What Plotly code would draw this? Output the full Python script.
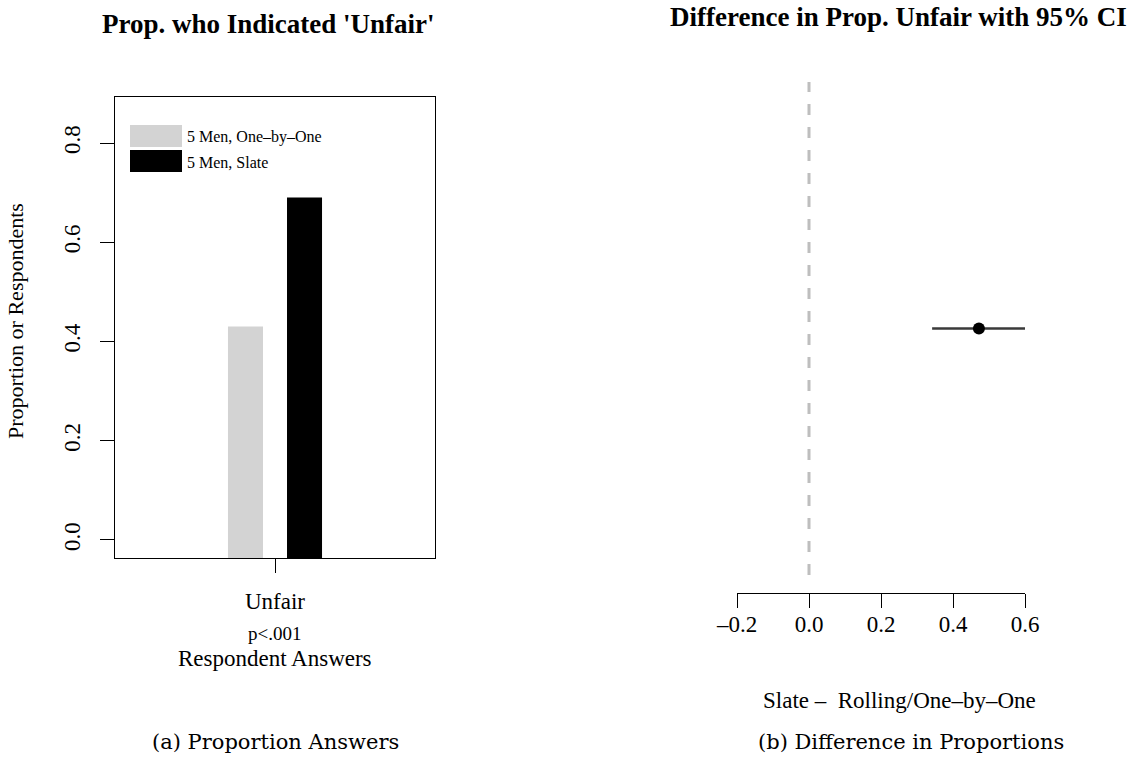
import plotly.graph_objects as go

W, H = 1135, 759

# Panel (a): proportion answering "Unfair"
categories = ["Unfair"]
series_names = ["5 Men, One\u2013by\u2013One", "5 Men, Slate"]
series_colors = ["#D3D3D3", "#000000"]
prop_one_by_one = [0.43]
prop_slate = [0.69]
p_value_label = "p<.001"
y_ticks = [0.0, 0.2, 0.4, 0.6, 0.8]

# Panel (b): difference in proportions with 95% CI
diff_estimate = [0.472]
diff_lower = [0.342]
diff_upper = [0.605]
x_ticks_b = [-0.2, 0.0, 0.2, 0.4, 0.6]

Y_MIN, Y_MAX = -0.0363, 0.8927


def px(x):
    return x / W


def py(y):
    return 1 - y / H


SERIF = "Liberation Serif"
CAPTION = "DejaVu Serif"

fig = go.Figure()

for name, vals, col in zip(series_names, [prop_one_by_one, prop_slate], series_colors):
    fig.add_trace(go.Bar(
        x=categories, y=[v - Y_MIN for v in vals], base=Y_MIN,
        name=name, marker=dict(color=col, line=dict(width=0)),
        xaxis="x", yaxis="y", showlegend=False,
    ))

# zero reference line
fig.add_trace(go.Scatter(
    x=[0, 0], y=[0, 2], mode="lines",
    line=dict(color="#BEBEBE", width=3, dash="11px,12px"),
    xaxis="x2", yaxis="y2", showlegend=False, hoverinfo="skip",
))
# confidence interval
fig.add_trace(go.Scatter(
    x=[diff_lower[0], diff_upper[0]], y=[1, 1], mode="lines",
    line=dict(color="#3A3A3A", width=2.4),
    xaxis="x2", yaxis="y2", showlegend=False,
))
fig.add_trace(go.Scatter(
    x=diff_estimate, y=[1], mode="markers",
    marker=dict(color="black", size=12),
    xaxis="x2", yaxis="y2", showlegend=False,
))

fig.update_layout(
    width=W, height=H,
    margin=dict(l=0, r=0, t=0, b=0, autoexpand=False),
    paper_bgcolor="white", plot_bgcolor="white",
    font=dict(family=SERIF, color="black", size=23),
    barmode="group", bargap=0.631, bargroupgap=0.407,
    xaxis=dict(
        domain=[px(115), px(435)], range=[-0.5, 0.5], type="category",
        showline=True, linecolor="black", linewidth=1, mirror=True,
        ticks="outside", ticklen=14, tickcolor="black",
        tickfont=dict(family=SERIF, size=23), ticklabelstandoff=8,
        showgrid=False, zeroline=False, automargin=False,
        anchor="y",
    ),
    yaxis=dict(
        domain=[py(558), py(97)], range=[Y_MIN, Y_MAX],
        tickvals=y_ticks, ticktext=[f"{v:.1f}" for v in y_ticks],
        tickangle=-90, showline=True, linecolor="black", linewidth=1, mirror=True,
        ticks="outside", ticklen=14, tickcolor="black",
        tickfont=dict(family=SERIF, size=23), ticklabelstandoff=11,
        showgrid=False, zeroline=False,
        automargin=False, anchor="x",
    ),
    xaxis2=dict(
        domain=[px(737), px(1025)], range=[-0.2, 0.6],
        tickvals=x_ticks_b, ticktext=["\u20130.2", "0.0", "0.2", "0.4", "0.6"],
        showline=True, linecolor="black", linewidth=1,
        ticks="outside", ticklen=14, tickcolor="black",
        tickfont=dict(family=SERIF, size=23), ticklabelstandoff=-4,
        showgrid=False, zeroline=False,
        automargin=False, anchor="free", position=py(593),
    ),
    yaxis2=dict(
        domain=[py(575), py(82)], range=[0, 2], visible=False,
        automargin=False, anchor="x2",
    ),
)

ann = [
    dict(text="<b>Prop. who Indicated 'Unfair'</b>", x=px(268), y=py(24),
         font=dict(family=SERIF, size=27)),
    dict(text="<b>Difference in Prop. Unfair with 95% CI</b>", x=px(898), y=py(17),
         font=dict(family=SERIF, size=27)),
    dict(text="Proportion or Respondents", x=px(15), y=py(321), textangle=-90,
         font=dict(family=SERIF, size=22)),
    dict(text=p_value_label, x=px(274), y=py(633), font=dict(family=SERIF, size=19)),
    dict(text="Respondent Answers", x=px(275), y=py(658), font=dict(family=SERIF, size=23)),
    dict(text="Slate \u2013&nbsp; Rolling/One\u2013by\u2013One", x=px(899), y=py(700),
         font=dict(family=SERIF, size=23)),
    dict(text="(a) Proportion Answers", x=px(275), y=py(742),
         font=dict(family=CAPTION, size=21)),
    dict(text="(b) Difference in Proportions", x=px(911), y=py(742),
         font=dict(family=CAPTION, size=21)),
]
# manual legend
shapes = []
for i, (name, col) in enumerate(zip(series_names, series_colors)):
    top = 125 + i * 25
    shapes.append(dict(type="rect", xref="paper", yref="paper",
                       x0=px(130), x1=px(182), y0=py(top + 22), y1=py(top),
                       fillcolor=col, line=dict(width=0)))
    ann.append(dict(text=name, x=px(185), y=py(top + 12), xanchor="left",
                    font=dict(family=SERIF, size=16)))

for a in ann:
    a.setdefault("xanchor", "center")
    a.update(xref="paper", yref="paper", yanchor="middle", showarrow=False)

fig.update_layout(annotations=ann, shapes=shapes)

fig.write_html("out.html")
